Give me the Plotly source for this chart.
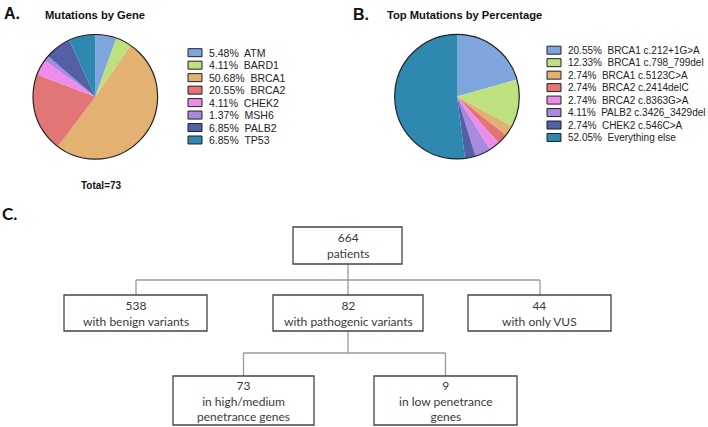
import plotly.graph_objects as go

W, H = 708, 427

# ---------------- data ----------------
gene_labels = ["ATM", "BARD1", "BRCA1", "BRCA2", "CHEK2", "MSH6", "PALB2", "TP53"]
gene_pct = [5.48, 4.11, 50.68, 20.55, 4.11, 1.37, 6.85, 6.85]
gene_total = 73

mut_labels = ["BRCA1 c.212+1G>A", "BRCA1 c.798_799del", "BRCA1 c.5123C>A", "BRCA2 c.2414delC",
              "BRCA2 c.8363G>A", "PALB2 c.3426_3429del", "CHEK2 c.546C>A", "Everything else"]
mut_pct = [20.55, 12.33, 2.74, 2.74, 2.74, 4.11, 2.74, 52.05]

palette = ["#7FA5DD", "#BEE07F", "#E3B272", "#E27575", "#EE8CEE", "#A88ADF", "#5360A8", "#2E88B0"]

flow_counts = [664, 538, 82, 44, 73, 9]
flow_texts = ["patients", "with benign variants", "with pathogenic variants", "with only VUS",
              "in high/medium<br>penetrance genes", "in low penetrance<br>genes"]

# ---------------- helpers ----------------
def fx(px):
    return px / W

def fy(py):
    return 1 - py / H

fig = go.Figure()
shapes = []
ann = []

def add_pie(labels, values, cx, cy, r, name):
    fig.add_trace(go.Pie(
        labels=labels, values=values, sort=False, direction="clockwise", rotation=0,
        marker=dict(colors=palette, line=dict(width=0)),
        textinfo="none", hoverinfo="label+percent", showlegend=False, name=name,
        domain=dict(x=[fx(cx - r), fx(cx + r)], y=[fy(cy + r), fy(cy - r)]),
    ))
    shapes.append(dict(type="circle", xref="x", yref="y", x0=cx - r, x1=cx + r, y0=cy - r, y1=cy + r,
                       line=dict(color="#222", width=1.2), fillcolor="rgba(0,0,0,0)", layer="above"))

def add_legend(labels, values, x0, y0, dy, fsize):
    for i, (lab, v) in enumerate(zip(labels, values)):
        yc = y0 + i * dy
        shapes.append(dict(type="rect", xref="x", yref="y", x0=x0, x1=x0 + 14, y0=yc - 4, y1=yc + 4,
                           fillcolor=palette[i], line=dict(color="#222", width=1)))
        ann.append(dict(x=x0 + 19, y=yc, xref="x", yref="y", xanchor="left", yanchor="middle",
                        text=f"{v:.2f}%\u00a0 {lab}", showarrow=False,
                        font=dict(family="Liberation Sans, Arial", size=fsize, color="#222")))

add_pie(gene_labels, gene_pct, 95.3, 96.8, 62.3, "A")
add_pie(mut_labels, mut_pct, 457, 96.6, 62.3, "B")
add_legend(gene_labels, gene_pct, 188, 52.7, 12.47, 10.5)
add_legend(mut_labels, mut_pct, 547, 50.2, 12.47, 10)

title_font = dict(family="Liberation Sans, Arial", size=11.2, color="#111")
big_font = dict(family="Liberation Sans, Arial", size=16, color="#111")
ann += [
    dict(x=2, y=13, text="<b>A.</b>", font=big_font),
    dict(x=43, y=15, text="<b>Mutations by Gene</b>", font=title_font),
    dict(x=351, y=14, text="<b>B.</b>", font=big_font),
    dict(x=385, y=15, text="<b>Top Mutations by Percentage</b>", font=title_font),
    dict(x=101, y=185, text=f"<b>Total={gene_total}</b>", xanchor="center",
         font=dict(family="Liberation Sans, Arial", size=10, color="#111")),
    dict(x=0, y=213, text="<b>C.</b>", font=dict(family="Lato, Open Sans", size=17, color="#111")),
]
for a in ann[-6:]:
    a.setdefault("xanchor", "left")
    a.update(xref="x", yref="y", yanchor="middle", showarrow=False)

# ---------------- flowchart ----------------
boxes = [  # (x0, x1, y0, y1)
    (293, 402, 227, 264),
    (64, 207, 295, 331),
    (273, 423, 295, 331),
    (468, 611, 295, 331),
    (173, 314, 376, 425),
    (374, 517, 376, 425),
]
line_c = "#9A9A9A"
box_c = "#444444"
txt_c = "#3A3A3A"
ffont = "Lato, Open Sans"

# connectors
conn = [
    (348, 264, 348, 280), (136, 280, 540, 280),
    (136, 280, 136, 295), (348, 280, 348, 295), (540, 280, 540, 295),
    (348, 331, 348, 353), (243.5, 353, 445.5, 353),
    (243.5, 353, 243.5, 376), (445.5, 353, 445.5, 376),
]
for x0, y0, x1, y1 in conn:
    shapes.append(dict(type="line", xref="x", yref="y", x0=x0, y0=y0, x1=x1, y1=y1,
                       line=dict(color=line_c, width=1.3)))

for (x0, x1, y0, y1), n, t in zip(boxes, flow_counts, flow_texts):
    shapes.append(dict(type="rect", xref="x", yref="y", x0=x0, x1=x1, y0=y0, y1=y1,
                       line=dict(color=box_c, width=1.3), fillcolor="white"))
    ann.append(dict(x=(x0 + x1) / 2, y=(y0 + y1) / 2, xref="x", yref="y",
                    xanchor="center", yanchor="middle", showarrow=False,
                    text=f"{n}<br>{t}", align="center",
                    font=dict(family=ffont, size=12, color=txt_c)))

fig.update_layout(
    width=W, height=H, margin=dict(l=0, r=0, t=0, b=0),
    paper_bgcolor="white", plot_bgcolor="white",
    xaxis=dict(range=[0, W], visible=False, domain=[0, 1], fixedrange=True),
    yaxis=dict(range=[H, 0], visible=False, domain=[0, 1], fixedrange=True),
    shapes=shapes, annotations=ann, showlegend=False,
)

fig.write_html(
    "out.html",
    config={"displayModeBar": False},
    post_script="document.body.style.margin='0';document.body.style.padding='0';document.body.style.overflow='hidden';",
)
